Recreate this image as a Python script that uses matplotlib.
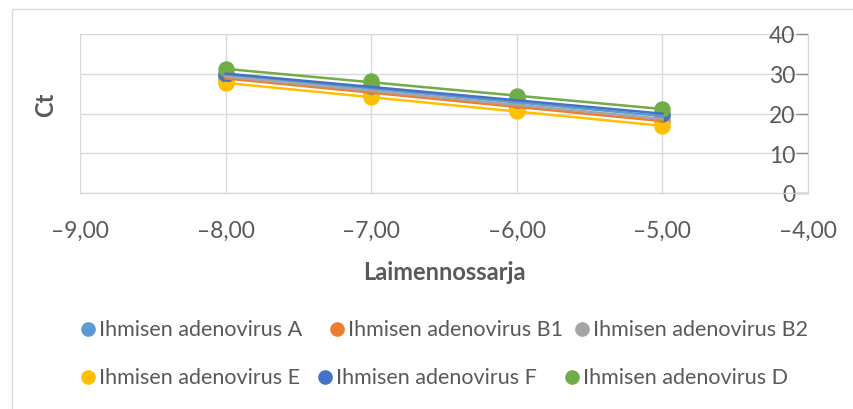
import numpy as np
import matplotlib.pyplot as plt
from matplotlib.lines import Line2D
from matplotlib.patches import Rectangle

plt.rcParams['font.family'] = ['Lato', 'DejaVu Sans']

dilution = [-8, -7, -6, -5]

series_names = ['Ihmisen adenovirus A', 'Ihmisen adenovirus B1', 'Ihmisen adenovirus B2',
                'Ihmisen adenovirus E', 'Ihmisen adenovirus F', 'Ihmisen adenovirus D']
ct_a = [29.6, 26.4, 22.8, 19.3]
ct_b1 = [28.8, 25.3, 21.6, 18.1]
ct_b2 = [29.2, 25.8, 22.2, 18.6]
ct_e = [27.6, 24.2, 20.6, 16.8]
ct_f = [29.9, 26.9, 23.3, 19.9]
ct_d = [31.1, 28.1, 24.4, 21.1]
colors = ['#5B9BD5', '#ED7D31', '#A5A5A5', '#FFC000', '#4472C4', '#70AD47']

xticks = [-9, -8, -7, -6, -5, -4]
yticks = [0, 10, 20, 30, 40]

text_col = '#595959'
grid_col = '#D9D9D9'

fig = plt.figure(figsize=(8.54, 4.10), dpi=100)
fig.patches.append(Rectangle((12 / 854, -0.1), 1.2, 1 - 10 / 410 + 0.1, transform=fig.transFigure,
                             fill=False, edgecolor='#D9D9D9', linewidth=1))

ax = fig.add_axes([80 / 854, 1 - 194 / 410, (808 - 80) / 854, (194 - 35) / 410])

x = np.array(dilution)
for name, ys, c in zip(series_names, [ct_a, ct_b1, ct_b2, ct_e, ct_f, ct_d], colors):
    ax.scatter(x, ys, s=140, color=c, zorder=3, linewidths=0)
    k, b = np.polyfit(x, ys, 1)
    ax.plot(x, k * x + b, color=c, linewidth=1.8, zorder=4)

ax.set_xlim(-9, -4)
ax.set_ylim(0, 40)
ax.set_xticks(xticks)
ax.set_yticks(yticks)
ax.set_xticklabels([f'\u2013{abs(v)},00' for v in xticks])
ax.grid(True, color=grid_col, linewidth=1)
ax.set_axisbelow(True)

for s in ['top', 'right']:
    ax.spines[s].set_visible(False)
ax.spines['left'].set_position(('data', -4))
ax.spines['left'].set_color('#D0D5DE')
ax.spines['bottom'].set_color('#D0D5DE')
ax.tick_params(axis='x', length=0, pad=19, labelsize=16.5, labelcolor=text_col)
ax.tick_params(axis='y', direction='out', length=9, color='#8C8C8C', width=1,
               pad=0, labelsize=16.5, labelcolor=text_col)

ax.set_xlabel('Laimennossarja', fontsize=17, fontweight='bold', color=text_col, labelpad=14)
fig.text(46 / 854, 1 - 105 / 410, 'Ct', rotation=90, fontsize=17, fontweight='bold',
         color=text_col, ha='center', va='center')

# legend laid out in two flowing rows
rows = [([0, 1, 2], [88, 337, 582], 330), ([3, 4, 5], [88, 325, 572], 378)]
for idxs, xs, ypix in rows:
    for i, xp in zip(idxs, xs):
        fig.lines.append(Line2D([xp / 854], [1 - ypix / 410], marker='o', markersize=9.5,
                                color=colors[i], linestyle='none', transform=fig.transFigure))
        fig.text((xp + 11) / 854, 1 - ypix / 410, series_names[i], fontsize=15.5,
                 color=text_col, ha='left', va='center')

fig.savefig('out.png', dpi=100)
